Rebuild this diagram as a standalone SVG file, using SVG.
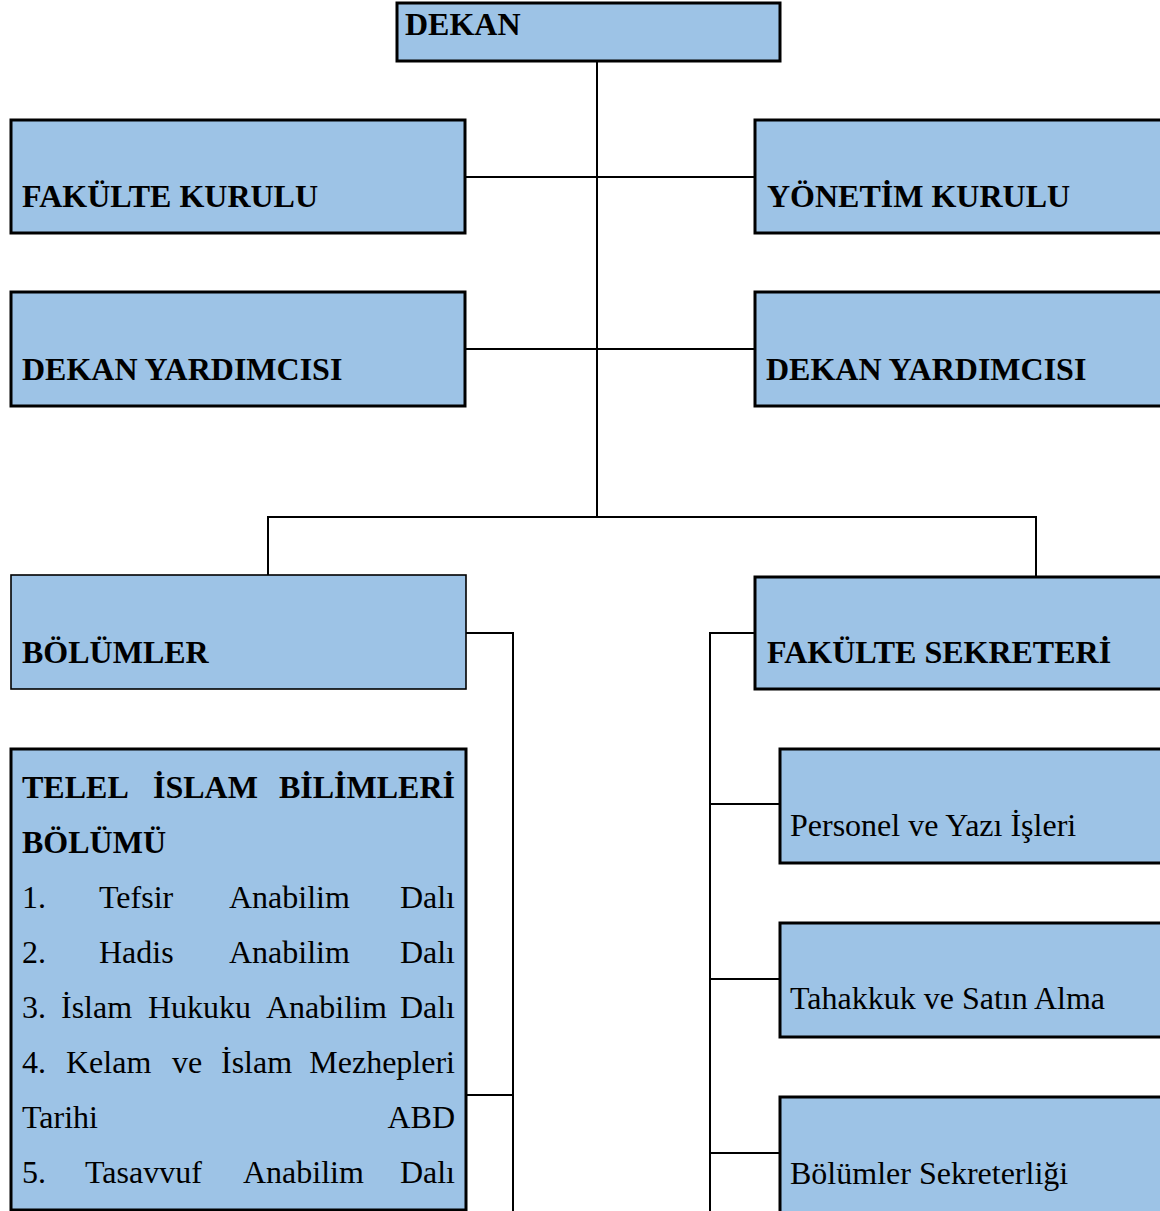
<svg xmlns="http://www.w3.org/2000/svg" width="1160" height="1211" viewBox="0 0 1160 1211">
<style>
.box{fill:#9DC3E6;stroke:#000;stroke-width:3}
.thin{stroke-width:1.6}
.t{font-family:"Liberation Serif","Times New Roman",serif;font-size:32px;fill:#000}
.b{font-weight:bold}
.e{text-anchor:end}
.c{fill:none;stroke:#000;stroke-width:2}
</style>
<rect width="1160" height="1211" fill="#fff"/>
<g id="connectors">
<path class="c" d="M597 61V517M466 177H755M466 349H755M268 575V517H1036V576"/>
<path class="c" d="M466 633H513V1211M466 1095H513"/>
<path class="c" d="M755 633H710V1211M710 804H780M710 979H780M710 1153H780"/>
</g>
<g id="dekan">
<rect class="box" x="397" y="3" width="383" height="58"/>
<text class="t b" x="405" y="35">DEKAN</text>
</g>
<g id="fakulte-kurulu">
<rect class="box" x="11" y="120" width="454" height="113"/>
<text class="t b" x="22" y="207">FAKÜLTE KURULU</text>
</g>
<g id="yonetim-kurulu">
<rect class="box" x="755" y="120" width="410" height="113"/>
<text class="t b" x="767" y="207">YÖNETİM KURULU</text>
</g>
<g id="dekan-yardimcisi-1">
<rect class="box" x="11" y="292" width="454" height="114"/>
<text class="t b" x="22" y="380">DEKAN YARDIMCISI</text>
</g>
<g id="dekan-yardimcisi-2">
<rect class="box" x="755" y="292" width="410" height="114"/>
<text class="t b" x="766" y="380">DEKAN YARDIMCISI</text>
</g>
<g id="bolumler">
<rect class="box thin" x="11" y="575" width="455" height="114"/>
<text class="t b" x="22" y="663">BÖLÜMLER</text>
</g>
<g id="fakulte-sekreteri">
<rect class="box" x="755" y="577" width="410" height="112"/>
<text class="t b" x="767" y="663">FAKÜLTE SEKRETERİ</text>
</g>
<g id="temel-islam">
<rect class="box" x="11" y="749" width="455" height="461"/>
<text class="t b" x="22" y="798">TELEL</text>
<text class="t b" x="153" y="798">İSLAM</text>
<text class="t b e" x="455" y="798">BİLİMLERİ</text>
<text class="t b" x="22" y="853">BÖLÜMÜ</text>
<text class="t" x="22" y="908">1.</text>
<text class="t" x="99" y="908">Tefsir</text>
<text class="t" x="229" y="908">Anabilim</text>
<text class="t e" x="455" y="908">Dalı</text>
<text class="t" x="22" y="963">2.</text>
<text class="t" x="99" y="963">Hadis</text>
<text class="t" x="229" y="963">Anabilim</text>
<text class="t e" x="455" y="963">Dalı</text>
<text class="t" x="22" y="1018">3.</text>
<text class="t" x="61" y="1018">İslam</text>
<text class="t" x="148" y="1018">Hukuku</text>
<text class="t" x="266" y="1018">Anabilim</text>
<text class="t e" x="455" y="1018">Dalı</text>
<text class="t" x="22" y="1073">4.</text>
<text class="t" x="66" y="1073">Kelam</text>
<text class="t" x="172" y="1073">ve</text>
<text class="t" x="221" y="1073">İslam</text>
<text class="t e" x="455" y="1073">Mezhepleri</text>
<text class="t" x="22" y="1128">Tarihi</text>
<text class="t e" x="455" y="1128">ABD</text>
<text class="t" x="22" y="1183">5.</text>
<text class="t" x="85" y="1183">Tasavvuf</text>
<text class="t" x="243" y="1183">Anabilim</text>
<text class="t e" x="455" y="1183">Dalı</text>
</g>
<g id="personel">
<rect class="box" x="780" y="749" width="385" height="114"/>
<text class="t" x="790" y="836">Personel ve Yazı İşleri</text>
</g>
<g id="tahakkuk">
<rect class="box" x="780" y="923" width="385" height="114"/>
<text class="t" x="790" y="1009">Tahakkuk ve Satın Alma</text>
</g>
<g id="bolumler-sekreterligi">
<rect class="box" x="780" y="1097" width="385" height="120"/>
<text class="t" x="790" y="1184">Bölümler Sekreterliği</text>
</g>
</svg>
